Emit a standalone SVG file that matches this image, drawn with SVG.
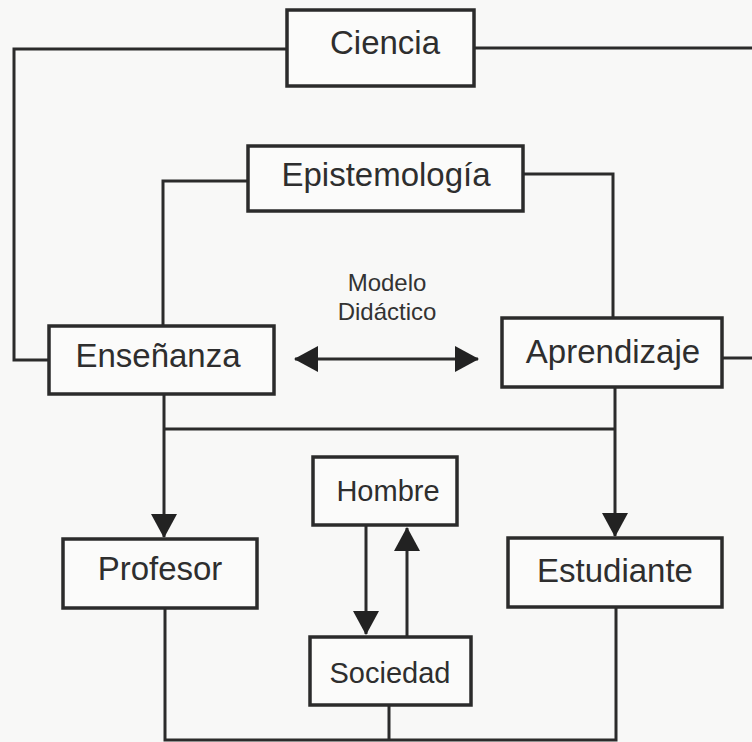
<svg xmlns="http://www.w3.org/2000/svg" width="752" height="742" viewBox="0 0 752 742">
  <style>
    .box rect { fill: #fbfbfa; stroke: #2b2b2b; stroke-width: 3.5; }
    .box text { font-family: "Liberation Sans", Arial, sans-serif; fill: #2e2e2e; text-anchor: middle; }
    .big { font-size: 33px; }
    .mid { font-size: 29px; }
    .lbl { font-family: "Liberation Sans", Arial, sans-serif; font-size: 24px; fill: #333; text-anchor: middle; }
    .conn { fill: none; stroke: #2b2b2b; stroke-width: 3; }
  </style>
  <defs>
    <marker id="ah" viewBox="0 0 24 26" refX="23" refY="13" markerWidth="24" markerHeight="26" markerUnits="userSpaceOnUse" orient="auto-start-reverse">
      <path d="M0,0 L24,13 L0,26 z" fill="#222"/>
    </marker>
  </defs>
  <rect width="752" height="742" fill="#f8f8f7"/>

  <g id="connectors">
    <polyline class="conn" points="287,49 14,49 14,360 49,360"/>
    <line class="conn" x1="474" y1="48" x2="752" y2="48"/>
    <polyline class="conn" points="248,181 163,181 163,326"/>
    <polyline class="conn" points="523,174 613,174 613,318"/>
    <line class="conn" x1="722" y1="358" x2="752" y2="358"/>
    <line class="conn" x1="164" y1="394" x2="164" y2="537" marker-end="url(#ah)"/>
    <line class="conn" x1="164" y1="429" x2="615" y2="429"/>
    <line class="conn" x1="615" y1="387" x2="615" y2="536" marker-end="url(#ah)"/>
    <line class="conn" x1="295" y1="359" x2="478" y2="359" marker-start="url(#ah)" marker-end="url(#ah)"/>
    <line class="conn" x1="366" y1="525" x2="366" y2="634" marker-end="url(#ah)"/>
    <line class="conn" x1="407" y1="637" x2="407" y2="528" marker-end="url(#ah)"/>
    <polyline class="conn" points="165,608 165,740 616,740 616,607"/>
    <line class="conn" x1="389" y1="705" x2="389" y2="740"/>
  </g>

  <text class="lbl" x="387" y="291">Modelo</text>
  <text class="lbl" x="387" y="320">Didáctico</text>

  <g id="ciencia" class="box">
    <rect x="287" y="10" width="187" height="76"/>
    <text class="big" x="385" y="54">Ciencia</text>
  </g>
  <g id="epistemologia" class="box">
    <rect x="248" y="146" width="275" height="65"/>
    <text class="big" x="386" y="186">Epistemología</text>
  </g>
  <g id="ensenanza" class="box">
    <rect x="49" y="326" width="225" height="68"/>
    <text class="big" x="158" y="367">Enseñanza</text>
  </g>
  <g id="aprendizaje" class="box">
    <rect x="502" y="318" width="220" height="69"/>
    <text class="big" x="613" y="363">Aprendizaje</text>
  </g>
  <g id="hombre" class="box">
    <rect x="313" y="457" width="144" height="68"/>
    <text class="mid" x="388" y="501">Hombre</text>
  </g>
  <g id="profesor" class="box">
    <rect x="63" y="539" width="194" height="69"/>
    <text class="big" x="160" y="580">Profesor</text>
  </g>
  <g id="estudiante" class="box">
    <rect x="508" y="538" width="214" height="69"/>
    <text class="big" x="615" y="582">Estudiante</text>
  </g>
  <g id="sociedad" class="box">
    <rect x="310" y="637" width="161" height="68"/>
    <text class="mid" x="390" y="683">Sociedad</text>
  </g>
</svg>
